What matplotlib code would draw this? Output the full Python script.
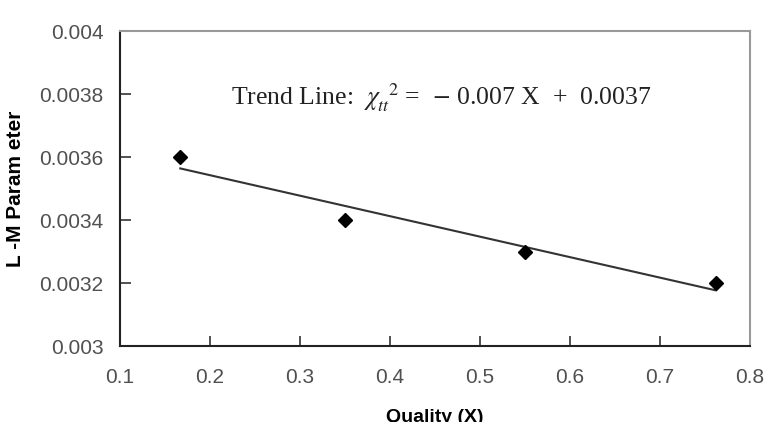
import numpy as np
import matplotlib
matplotlib.use("Agg")
import matplotlib.pyplot as plt

# data
quality = [0.167, 0.35, 0.55, 0.762]
lm_param = [0.0036, 0.0034, 0.0033, 0.0032]

x_ticks = [0.1, 0.2, 0.3, 0.4, 0.5, 0.6, 0.7, 0.8]
y_ticks = [0.003, 0.0032, 0.0034, 0.0036, 0.0038, 0.004]
y_tick_labels = ["0.003", "0.0032", "0.0034", "0.0036", "0.0038", "0.004"]

plt.rcParams["font.family"] = ["Liberation Sans", "DejaVu Sans"]
plt.rcParams["mathtext.fontset"] = "stix"

fig = plt.figure(figsize=(7.74, 4.22), dpi=100)
ax = fig.add_axes([0.155, 0.18, 0.814, 0.7465])

# linear trend line over the data range
slope, icpt = np.polyfit(quality, lm_param, 1)
xs = np.array([min(quality), max(quality)])
ax.plot(xs, slope * xs + icpt, color="#333333", lw=1.5, zorder=2)

ax.plot(quality, lm_param, "D", color="black", markersize=7, zorder=3)

ax.set_xlim(0.1, 0.8)
ax.set_ylim(0.003, 0.004)
ax.set_xticks(x_ticks)
ax.set_xticklabels([f"{v:.1f}" for v in x_ticks])
ax.set_yticks(y_ticks)
ax.set_yticklabels(y_tick_labels)

ax.tick_params(axis="x", direction="in", length=7, width=1.2, pad=16,
               labelsize=15, labelcolor="#505050", color="#333333")
ax.tick_params(axis="y", direction="in", length=8, width=1.2, pad=12,
               labelsize=15, labelcolor="#505050", color="#333333")

for s in ["left", "bottom"]:
    ax.spines[s].set_color("#222222")
    ax.spines[s].set_linewidth(1.5)
for s in ["top", "right"]:
    ax.spines[s].set_color("#999999")
    ax.spines[s].set_linewidth(1.5)

ax.set_ylabel("L -M Param eter", fontsize=15, fontweight="bold", labelpad=10)
ax.set_xlabel("Quality (X)", fontsize=14, fontweight="bold", labelpad=16)

ax.text(0.2233, 0.00379,
        r"Trend Line:  $\chi_{tt}^{\ \ 2}$ =  $-$ 0.007 X  +  0.0037",
        family=["Liberation Serif", "DejaVu Serif"], fontsize=18.5,
        color="#222222", va="center", ha="left")

fig.savefig("out.png", dpi=100)
